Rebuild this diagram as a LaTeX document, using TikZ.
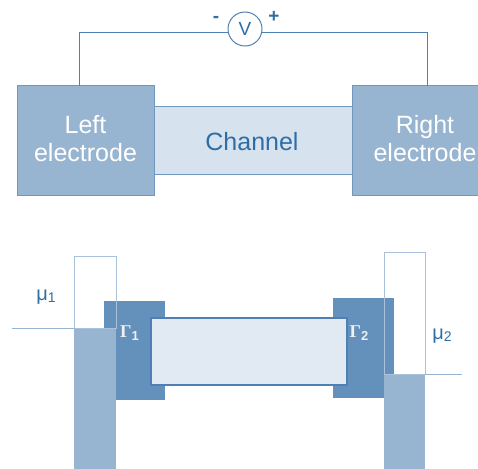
\documentclass[tikz,border=0pt]{standalone}
\usepackage{fontspec}
\setmainfont{Liberation Sans}
\setsansfont{Liberation Sans}
\newfontfamily\gserif{Liberation Serif}
\definecolor{elfill}{HTML}{97B4D0}
\definecolor{eldraw}{HTML}{6F97BF}
\definecolor{chfill}{HTML}{D6E2EE}
\definecolor{chtext}{HTML}{2F6EA5}
\definecolor{wirec}{HTML}{4F81B0}
\definecolor{gamfill}{HTML}{6391BB}
\definecolor{chbfill}{HTML}{E1E9F3}
\definecolor{chbdraw}{HTML}{4E80B4}
\definecolor{outl}{HTML}{A9C1DA}
\newcommand{\gsub}[1]{\raisebox{-3pt}{\fontsize{13}{13}\selectfont\bfseries #1}}
\newcommand{\msub}[1]{\raisebox{-2.5pt}{\fontsize{14}{14}\selectfont #1}}
\begin{document}
\begin{tikzpicture}[x=1pt,y=-1pt,
  rbox/.style={rectangle,inner sep=0pt,outer sep=0pt,anchor=north west},
  electrode/.style={rbox,fill=elfill,draw=eldraw,line width=1pt},
  chantop/.style={rbox,fill=chfill,draw=eldraw,line width=1pt},
  bigtext/.style={font=\fontsize{25}{28}\selectfont,align=center},
  wire/.style={draw=wirec,line width=1pt},
  gambox/.style={rbox,fill=gamfill,draw=none},
  chanbot/.style={rbox,fill=chbfill,draw=chbdraw,line width=1.5pt},
  bar/.style={rbox,fill=elfill,draw=none},
  outbox/.style={rbox,draw=outl,line width=1pt},
  mulabel/.style={text=chtext,font=\fontsize{20}{22}\selectfont,inner sep=0pt},
  gamlabel/.style={text=white!94!black,font=\fontsize{18}{20}\selectfont,inner sep=0pt},
  sign/.style={text=chtext,font=\fontsize{19}{20}\selectfont\bfseries}
]
\useasboundingbox (0,0) rectangle (478,468);
% ---- top circuit ----
\node[chantop,minimum width=198pt,minimum height=68pt] (ch) at (154,106) {};
\node[text=chtext,bigtext] (chl) at (252,142) {Channel};
\node[electrode,minimum width=137pt,minimum height=109pt] (le) at (17,86) {};
\node[text=white,bigtext] (lel) at (85.5,139) {Left\\electrode};
\node[electrode,minimum width=146pt,minimum height=109pt] (re) at (352,86) {};
\node[text=white,bigtext] (rel) at (425,139) {Right\\electrode};
\node[circle,draw=wirec,line width=1pt,minimum size=34pt,inner sep=0pt,
      font=\fontsize{19}{20}\selectfont,text=chtext] (V) at (245,29) {V};
\node[sign] (minus) at (216,19) {-};
\node[sign] (plus) at (274,17) {+};
\coordinate (wl) at (79,86);
\coordinate (wr) at (427,86);
\draw[wire] (wl) |- (V.190);
\draw[wire] (wr) |- (V.-10);
% ---- bottom energy diagram ----
\node[gambox,minimum width=61pt,minimum height=99pt] (g1) at (104,301) {};
\node[gambox,minimum width=61pt,minimum height=100pt] (g2) at (333,298) {};
\node[chanbot,minimum width=196pt,minimum height=67pt] (cb) at (151,318) {};
\node[bar,minimum width=42pt,minimum height=145pt] (b1) at (74,328) {};
\node[outbox,minimum width=42pt,minimum height=72pt] (o1) at (74,256) {};
\node[bar,minimum width=41pt,minimum height=99pt] (b2) at (384,374) {};
\node[outbox,minimum width=41pt,minimum height=122pt] (o2) at (384,252) {};
\coordinate (m1) at (12,328);
\coordinate (m2) at (462,374);
\draw[draw=elfill,line width=1pt] (m1) -- (b1.north west);
\draw[draw=elfill,line width=1pt] (b2.north east) -- (m2);
\node[gamlabel] (G1) at (129.5,333) {{\gserif\bfseries Γ}\gsub{1}};
\node[gamlabel] (G2) at (359,333) {{\gserif\bfseries Γ}\gsub{2}};
\node[mulabel] (mu1) at (46,297) {μ\msub{1}};
\node[mulabel] (mu2) at (442,336) {μ\msub{2}};
\end{tikzpicture}
\end{document}
